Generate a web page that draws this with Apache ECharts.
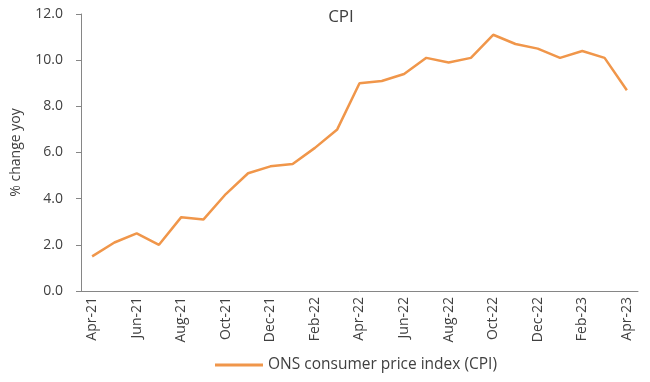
<!DOCTYPE html>
<html><head><meta charset="utf-8">
<script src="https://cdn.jsdelivr.net/npm/echarts@6/dist/echarts.min.js"></script>
<style>html,body{margin:0;padding:0;background:#fff}#c{width:650px;height:382px}</style>
</head><body><div id="c"></div>
<script>
const categories = ["Apr-21","May-21","Jun-21","Jul-21","Aug-21","Sep-21","Oct-21","Nov-21","Dec-21","Jan-22","Feb-22","Mar-22","Apr-22","May-22","Jun-22","Jul-22","Aug-22","Sep-22","Oct-22","Nov-22","Dec-22","Jan-23","Feb-23","Mar-23","Apr-23"];
const cpiValues = [1.5,2.1,2.5,2.0,3.2,3.1,4.2,5.1,5.4,5.5,6.2,7.0,9.0,9.1,9.4,10.1,9.9,10.1,11.1,10.7,10.5,10.1,10.4,10.1,8.7];
const seriesName = "ONS consumer price index (CPI)";
const chartTitle = "CPI";
const yAxisName = "% change yoy";

const font = "'Open Sans', sans-serif";
const chart = echarts.init(document.getElementById('c'));
chart.setOption({
  animation:false,
  title:{text:chartTitle,left:336,top:4,textAlign:'center',textStyle:{fontFamily:font,fontSize:17,fontWeight:'normal',color:'#404040'}},
  grid:{left:81,right:12,top:14,bottom:91},
  legend:{bottom:4,left:210,itemWidth:48,itemHeight:3,itemGap:8,icon:'rect',textStyle:{fontFamily:font,fontSize:15.5,color:'#404040'},data:[seriesName]},
  xAxis:{type:'category',data:categories,boundaryGap:true,
    axisLine:{lineStyle:{color:'#868686',width:1}},
    axisTick:{interval:1,length:5,lineStyle:{color:'#868686'}},
    axisLabel:{interval:1,rotate:90,fontFamily:font,fontSize:14,color:'#404040',margin:6}},
  yAxis:{type:'value',min:0,max:12,interval:2,name:yAxisName,nameLocation:'middle',nameGap:58,
    nameTextStyle:{fontFamily:font,fontSize:14,color:'#404040'},
    axisLine:{show:true,lineStyle:{color:'#868686'}},
    axisTick:{show:true,length:5,lineStyle:{color:'#868686'}},
    splitLine:{show:false},
    axisLabel:{fontFamily:font,fontSize:14,color:'#404040',margin:18,formatter:v=>v.toFixed(1)}},
  series:[{name:seriesName,type:'line',data:cpiValues,symbol:'none',lineStyle:{color:'#F0964A',width:2.5},itemStyle:{color:'#F0964A'}}]
});
</script></body></html>
